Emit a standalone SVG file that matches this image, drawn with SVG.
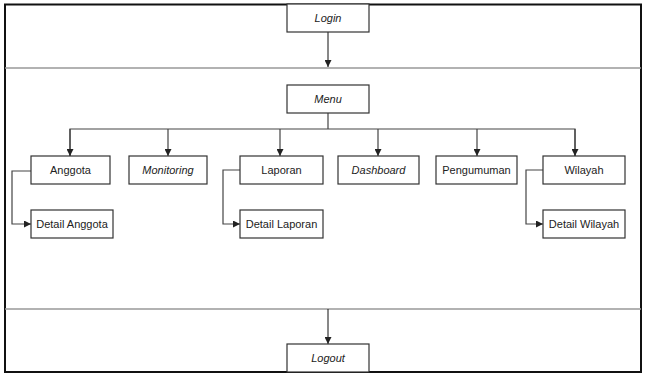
<svg xmlns="http://www.w3.org/2000/svg" width="646" height="376" viewBox="0 0 646 376">
<defs>
<style>
.box{fill:#fff;stroke:#333;stroke-width:1.2}
.t{font-family:"Liberation Sans",Arial,sans-serif;font-size:11px;fill:#222;text-anchor:middle;dominant-baseline:central}
.i{font-style:italic}
.c{fill:none;stroke:#444;stroke-width:1.2}
.k{fill:none;stroke:#111;stroke-width:1}
.div{stroke:#999;stroke-width:1.5}
</style>
<marker id="ah" viewBox="0 0 8 8" refX="8" refY="4" markerWidth="7" markerHeight="7" markerUnits="userSpaceOnUse" orient="auto"><path d="M0,0 L8,4 L0,8 Z" fill="#222"/></marker>
</defs>
<rect x="5" y="4.5" width="636" height="367.5" fill="#fff" stroke="#111" stroke-width="2"/>
<line class="div" x1="5" y1="68" x2="641" y2="68"/>
<line class="div" x1="5" y1="309" x2="641" y2="309"/>
<g id="connectors">
<path class="k" d="M328,32 V67" marker-end="url(#ah)"/>
<path class="c" d="M328,113 V129"/>
<path class="c" d="M70,156 V129 H575 V156"/>
<path class="c" d="M70,129 V156" marker-end="url(#ah)"/>
<path class="c" d="M168,129 V156" marker-end="url(#ah)"/>
<path class="c" d="M280,129 V156" marker-end="url(#ah)"/>
<path class="c" d="M378,129 V156" marker-end="url(#ah)"/>
<path class="c" d="M477,129 V156" marker-end="url(#ah)"/>
<path class="c" d="M575,129 V156" marker-end="url(#ah)"/>
<path class="c" d="M31,171 H12 V224 H31" marker-end="url(#ah)"/>
<path class="c" d="M240,170 H223 V224 H240" marker-end="url(#ah)"/>
<path class="c" d="M543,170 H526 V224 H543" marker-end="url(#ah)"/>
<path class="k" d="M328,309 V344" marker-end="url(#ah)"/>
</g>
<g id="login"><rect class="box" x="287" y="4" width="82" height="28"/><text class="t i" x="328" y="18">Login</text></g>
<g id="menu"><rect class="box" x="287" y="85" width="82" height="28"/><text class="t i" x="328" y="99">Menu</text></g>
<g id="anggota"><rect class="box" x="31" y="156" width="79" height="28"/><text class="t" x="70.5" y="170">Anggota</text></g>
<g id="monitoring"><rect class="box" x="129" y="156" width="78" height="28"/><text class="t i" x="168" y="170">Monitoring</text></g>
<g id="laporan"><rect class="box" x="240" y="156" width="83" height="28"/><text class="t" x="281.5" y="170">Laporan</text></g>
<g id="dashboard"><rect class="box" x="338" y="156" width="81" height="28"/><text class="t i" x="378.5" y="170">Dashboard</text></g>
<g id="pengumuman"><rect class="box" x="436" y="156" width="81" height="28"/><text class="t" x="476.5" y="170">Pengumuman</text></g>
<g id="wilayah"><rect class="box" x="543" y="156" width="82" height="28"/><text class="t" x="584" y="170">Wilayah</text></g>
<g id="detail-anggota"><rect class="box" x="31" y="210" width="82" height="28"/><text class="t" x="72" y="224">Detail Anggota</text></g>
<g id="detail-laporan"><rect class="box" x="240" y="210" width="83" height="28"/><text class="t" x="281.5" y="224">Detail Laporan</text></g>
<g id="detail-wilayah"><rect class="box" x="543" y="210" width="82" height="28"/><text class="t" x="584" y="224">Detail Wilayah</text></g>
<g id="logout"><rect class="box" x="287" y="344" width="82" height="28"/><text class="t i" x="328" y="358">Logout</text></g>
</svg>
